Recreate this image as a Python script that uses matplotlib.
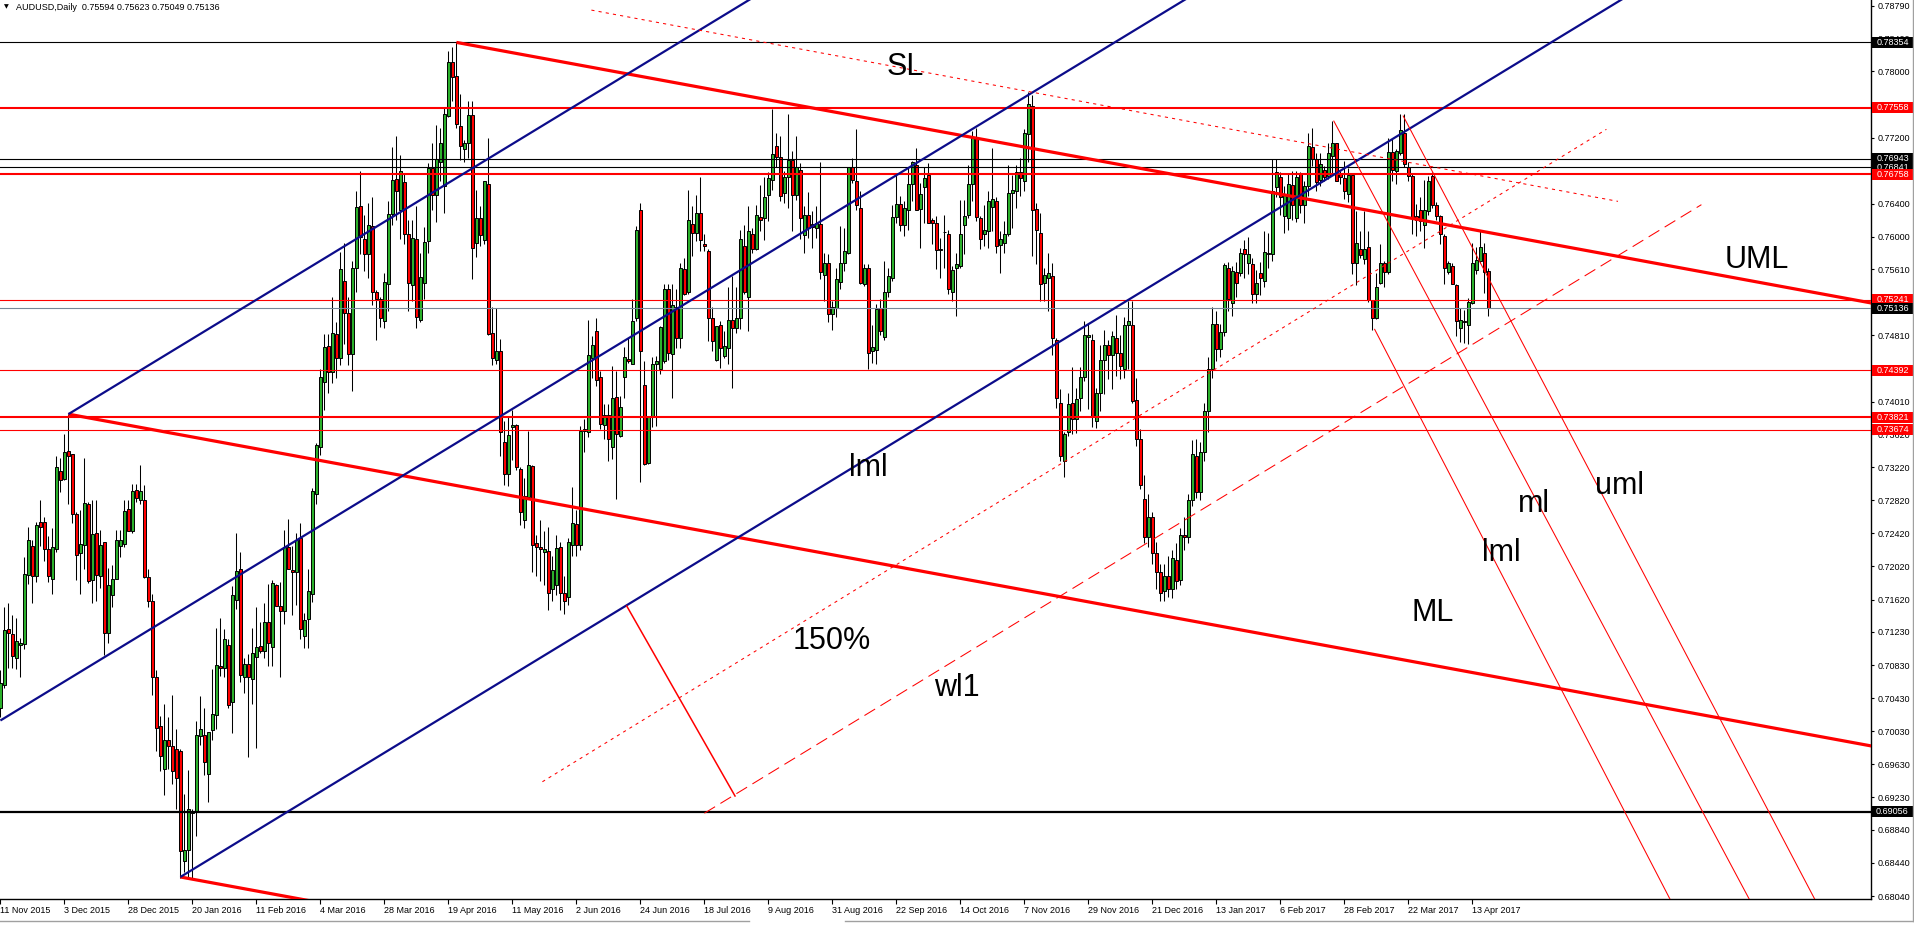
import numpy as np
import matplotlib.pyplot as plt
import matplotlib.transforms as mtransforms
from matplotlib.patches import Rectangle

# ---- daily candles, prices in 1e-4 units, bar 0 = 11 Nov 2015 ----
opens = [
    7031, 7059, 7126, 7121, 7092, 7107, 7108, 7192, 7227, 7191,
    7256, 7256, 7223, 7187, 7223, 7317, 7308, 7342, 7338, 7265,
    7218, 7228, 7277, 7186, 7242, 7190, 7232, 7122, 7167, 7187,
    7227, 7229, 7272, 7245, 7294, 7282, 7282, 7189, 7160, 7069,
    7009, 6958, 6993, 6985, 6981, 6979, 6846, 6860, 6904, 6906,
    6997, 6999, 6951, 7004, 7023, 7082, 7079, 7107, 7038, 7162,
    7199, 7068, 7084, 7066, 7093, 7106, 7100, 7135, 7105, 7180,
    7154, 7148, 7225, 7198, 7195, 7236, 7118, 7138, 7169, 7290,
    7346, 7425, 7468, 7437, 7483, 7454, 7547, 7508, 7459, 7562,
    7637, 7597, 7580, 7613, 7534, 7525, 7499, 7543, 7628, 7670,
    7632, 7666, 7603, 7542, 7598, 7500, 7544, 7595, 7683, 7651,
    7691, 7661, 7746, 7811, 7794, 7734, 7706, 7714, 7747, 7593,
    7623, 7596, 7664, 7484, 7452, 7462, 7352, 7314, 7370, 7373,
    7320, 7258, 7286, 7323, 7230, 7226, 7219, 7221, 7175, 7180,
    7225, 7170, 7165, 7228, 7253, 7228, 7366, 7365, 7454, 7486,
    7431, 7373, 7385, 7346, 7407, 7360, 7431, 7453, 7447, 7502,
    7633, 7421, 7327, 7382, 7447, 7440, 7450, 7537, 7459, 7515,
    7478, 7561, 7533, 7616, 7605, 7629, 7592, 7583, 7502, 7452,
    7494, 7456, 7466, 7500, 7490, 7502, 7589, 7527, 7603, 7585,
    7624, 7623, 7651, 7669, 7710, 7696, 7653, 7672, 7693, 7651,
    7681, 7602, 7626, 7616, 7611, 7616, 7554, 7568, 7507, 7514,
    7546, 7568, 7581, 7684, 7667, 7635, 7543, 7562, 7462, 7464,
    7514, 7479, 7533, 7550, 7624, 7640, 7614, 7632, 7664, 7687,
    7634, 7660, 7675, 7620, 7617, 7585, 7606, 7603, 7533, 7563,
    7565, 7615, 7626, 7664, 7720, 7623, 7604, 7607, 7636, 7644,
    7590, 7593, 7604, 7653, 7656, 7679, 7667, 7724, 7758, 7634,
    7605, 7545, 7551, 7553, 7476, 7400, 7330, 7364, 7399, 7380,
    7406, 7431, 7479, 7476, 7378, 7412, 7452, 7470, 7458, 7478,
    7460, 7440, 7494, 7494, 7403, 7356, 7283, 7238, 7262, 7218,
    7195, 7172, 7190, 7175, 7210, 7186, 7240, 7238, 7282, 7336,
    7292, 7340, 7390, 7440, 7495, 7465, 7485, 7563, 7520, 7558,
    7557, 7585, 7568, 7567, 7531, 7556, 7547, 7581, 7579, 7660,
    7672, 7625, 7623, 7663, 7623, 7677, 7639, 7661, 7709, 7694,
    7669, 7681, 7674, 7698, 7713, 7677, 7671, 7652, 7675, 7569,
    7585, 7573, 7588, 7524, 7502, 7545, 7569, 7558, 7703, 7680,
    7702, 7726, 7684, 7674, 7625, 7633, 7614, 7631, 7674, 7639,
    7625, 7601, 7558, 7565, 7542, 7490, 7499, 7494, 7520, 7560,
    7571, 7581, 7559,
]
highs = [
    7077, 7153, 7158, 7144, 7140, 7116, 7213, 7250, 7234, 7256,
    7282, 7262, 7239, 7249, 7335, 7333, 7362, 7386, 7338, 7268,
    7270, 7333, 7280, 7282, 7282, 7246, 7232, 7200, 7204, 7246,
    7246, 7282, 7282, 7302, 7302, 7325, 7301, 7199, 7169, 7077,
    7022, 7036, 7020, 7047, 7006, 6982, 6927, 6956, 6909, 7015,
    7045, 7031, 7002, 7078, 7128, 7140, 7126, 7115, 7179, 7242,
    7219, 7091, 7096, 7128, 7153, 7135, 7158, 7181, 7186, 7181,
    7183, 7246, 7259, 7227, 7243, 7254, 7146, 7199, 7297, 7351,
    7441, 7483, 7483, 7527, 7497, 7582, 7593, 7527, 7571, 7655,
    7680, 7626, 7641, 7648, 7536, 7527, 7556, 7643, 7709, 7722,
    7699, 7676, 7620, 7620, 7637, 7581, 7612, 7689, 7714, 7735,
    7732, 7757, 7824, 7829, 7835, 7773, 7717, 7764, 7764, 7657,
    7637, 7668, 7719, 7516, 7514, 7477, 7378, 7383, 7391, 7374,
    7322, 7309, 7366, 7324, 7240, 7258, 7245, 7250, 7215, 7240,
    7232, 7190, 7236, 7298, 7270, 7372, 7380, 7500, 7480, 7502,
    7438, 7398, 7398, 7444, 7438, 7408, 7467, 7478, 7525, 7613,
    7641, 7450, 7384, 7455, 7456, 7492, 7543, 7543, 7543, 7537,
    7569, 7575, 7657, 7637, 7651, 7673, 7604, 7585, 7515, 7492,
    7499, 7486, 7539, 7553, 7539, 7608, 7614, 7637, 7611, 7638,
    7663, 7673, 7679, 7754, 7726, 7722, 7680, 7748, 7704, 7722,
    7689, 7637, 7654, 7631, 7637, 7691, 7581, 7579, 7523, 7563,
    7613, 7611, 7685, 7695, 7730, 7655, 7567, 7567, 7494, 7519,
    7525, 7571, 7563, 7639, 7675, 7650, 7643, 7685, 7692, 7708,
    7665, 7684, 7689, 7623, 7625, 7599, 7627, 7608, 7565, 7581,
    7645, 7645, 7687, 7728, 7732, 7625, 7639, 7655, 7707, 7648,
    7607, 7619, 7687, 7675, 7687, 7695, 7730, 7775, 7772, 7641,
    7629, 7563, 7581, 7569, 7478, 7416, 7364, 7412, 7443, 7418,
    7443, 7498, 7496, 7483, 7418, 7470, 7488, 7476, 7486, 7506,
    7482, 7503, 7523, 7523, 7430, 7368, 7312, 7290, 7268, 7232,
    7205, 7205, 7215, 7222, 7230, 7248, 7262, 7290, 7355, 7356,
    7352, 7400, 7455, 7515, 7510, 7495, 7568, 7570, 7565, 7570,
    7587, 7596, 7600, 7575, 7560, 7570, 7607, 7605, 7694, 7694,
    7678, 7662, 7676, 7680, 7680, 7679, 7668, 7725, 7732, 7702,
    7702, 7686, 7714, 7740, 7714, 7680, 7692, 7683, 7675, 7631,
    7607, 7631, 7607, 7524, 7557, 7592, 7571, 7720, 7718, 7706,
    7749, 7749, 7690, 7676, 7640, 7648, 7669, 7674, 7678, 7642,
    7627, 7603, 7571, 7568, 7543, 7514, 7512, 7526, 7593, 7588,
    7608, 7593, 7562,
]
lows = [
    7020, 7055, 7079, 7079, 7078, 7068, 7102, 7181, 7158, 7183,
    7227, 7209, 7183, 7169, 7220, 7292, 7306, 7278, 7255, 7186,
    7169, 7199, 7182, 7158, 7160, 7176, 7095, 7110, 7153, 7187,
    7213, 7225, 7245, 7243, 7280, 7278, 7188, 7153, 7047, 6979,
    6955, 6926, 6957, 6939, 6909, 6826, 6833, 6826, 6826, 6876,
    6987, 6950, 6917, 6992, 7006, 7070, 7068, 7031, 7001, 7151,
    7063, 7049, 6972, 7036, 6983, 7098, 7091, 7082, 7082, 7154,
    7068, 7132, 7199, 7144, 7156, 7114, 7104, 7104, 7159, 7278,
    7337, 7391, 7411, 7424, 7430, 7445, 7471, 7445, 7414, 7533,
    7579, 7559, 7551, 7518, 7475, 7491, 7490, 7510, 7615, 7620,
    7598, 7592, 7510, 7523, 7490, 7497, 7525, 7581, 7633, 7618,
    7667, 7629, 7745, 7764, 7732, 7693, 7690, 7695, 7549, 7576,
    7589, 7592, 7482, 7445, 7447, 7336, 7301, 7299, 7331, 7318,
    7252, 7248, 7284, 7195, 7190, 7185, 7180, 7150, 7160, 7168,
    7150, 7145, 7155, 7215, 7215, 7222, 7340, 7358, 7430, 7420,
    7368, 7356, 7330, 7332, 7283, 7358, 7406, 7448, 7446, 7499,
    7304, 7324, 7326, 7370, 7372, 7434, 7448, 7452, 7406, 7466,
    7466, 7530, 7531, 7577, 7595, 7583, 7583, 7474, 7462, 7450,
    7442, 7454, 7446, 7418, 7484, 7489, 7531, 7486, 7581, 7584,
    7607, 7596, 7619, 7657, 7684, 7643, 7641, 7635, 7607, 7645,
    7597, 7581, 7599, 7587, 7599, 7549, 7523, 7497, 7488, 7503,
    7537, 7559, 7579, 7665, 7633, 7543, 7541, 7440, 7448, 7446,
    7482, 7476, 7527, 7547, 7617, 7607, 7601, 7609, 7643, 7632,
    7587, 7617, 7617, 7591, 7561, 7551, 7563, 7531, 7523, 7505,
    7563, 7579, 7623, 7643, 7619, 7585, 7589, 7587, 7607, 7581,
    7557, 7581, 7601, 7611, 7635, 7649, 7655, 7691, 7577, 7567,
    7523, 7523, 7511, 7458, 7394, 7330, 7310, 7360, 7362, 7363,
    7390, 7426, 7392, 7371, 7369, 7390, 7410, 7428, 7416, 7432,
    7428, 7430, 7440, 7400, 7348, 7296, 7230, 7225, 7205, 7175,
    7160, 7160, 7165, 7164, 7175, 7180, 7222, 7230, 7275, 7285,
    7282, 7330, 7365, 7430, 7450, 7455, 7480, 7510, 7505, 7528,
    7553, 7551, 7555, 7520, 7520, 7530, 7540, 7563, 7571, 7648,
    7627, 7605, 7609, 7620, 7618, 7629, 7617, 7650, 7686, 7656,
    7662, 7668, 7670, 7676, 7668, 7664, 7646, 7642, 7555, 7542,
    7575, 7567, 7522, 7488, 7501, 7543, 7539, 7555, 7668, 7664,
    7699, 7684, 7668, 7603, 7601, 7607, 7587, 7627, 7635, 7621,
    7591, 7543, 7555, 7543, 7480, 7473, 7472, 7471, 7519, 7555,
    7569, 7532, 7505,
]
closes = [
    7061, 7125, 7122, 7094, 7112, 7110, 7193, 7234, 7191, 7252,
    7250, 7223, 7191, 7226, 7322, 7307, 7340, 7336, 7265, 7216,
    7229, 7279, 7185, 7241, 7192, 7228, 7122, 7180, 7187, 7234,
    7234, 7269, 7245, 7293, 7285, 7293, 7189, 7160, 7069, 7007,
    6973, 6993, 6985, 6955, 6947, 6858, 6860, 6909, 6906, 6999,
    7006, 6966, 7002, 7024, 7083, 7079, 7114, 7035, 7167, 7196,
    7071, 7084, 7068, 7098, 7105, 7100, 7135, 7110, 7182, 7154,
    7148, 7226, 7199, 7195, 7234, 7126, 7137, 7172, 7293, 7349,
    7431, 7467, 7437, 7484, 7454, 7561, 7508, 7459, 7562, 7636,
    7600, 7580, 7615, 7534, 7525, 7502, 7546, 7628, 7669, 7655,
    7680, 7603, 7544, 7599, 7503, 7552, 7594, 7683, 7651, 7694,
    7714, 7748, 7811, 7793, 7736, 7710, 7714, 7747, 7587, 7623,
    7602, 7668, 7483, 7454, 7462, 7365, 7314, 7361, 7373, 7322,
    7268, 7287, 7325, 7228, 7225, 7223, 7223, 7170, 7198, 7224,
    7170, 7160, 7231, 7254, 7228, 7366, 7368, 7457, 7470, 7427,
    7374, 7385, 7356, 7405, 7362, 7395, 7455, 7450, 7499, 7609,
    7462, 7326, 7382, 7446, 7450, 7491, 7537, 7460, 7518, 7478,
    7563, 7531, 7621, 7605, 7629, 7596, 7589, 7502, 7474, 7492,
    7466, 7468, 7500, 7490, 7502, 7597, 7533, 7607, 7585, 7626,
    7620, 7648, 7671, 7700, 7696, 7649, 7672, 7693, 7651, 7684,
    7623, 7626, 7611, 7612, 7617, 7558, 7568, 7507, 7515, 7549,
    7568, 7583, 7684, 7669, 7639, 7545, 7563, 7460, 7467, 7513,
    7486, 7533, 7553, 7624, 7640, 7614, 7635, 7664, 7691, 7633,
    7652, 7671, 7617, 7617, 7584, 7584, 7606, 7537, 7560, 7567,
    7604, 7625, 7664, 7720, 7624, 7598, 7609, 7643, 7646, 7589,
    7597, 7604, 7653, 7657, 7679, 7671, 7726, 7760, 7633, 7608,
    7543, 7554, 7556, 7478, 7406, 7336, 7362, 7398, 7380, 7404,
    7431, 7481, 7481, 7382, 7412, 7452, 7470, 7458, 7480, 7460,
    7444, 7494, 7498, 7402, 7356, 7300, 7238, 7262, 7218, 7195,
    7170, 7190, 7175, 7212, 7185, 7240, 7238, 7282, 7338, 7292,
    7340, 7390, 7440, 7495, 7465, 7485, 7566, 7525, 7559, 7545,
    7581, 7579, 7580, 7531, 7545, 7551, 7582, 7579, 7656, 7679,
    7648, 7652, 7664, 7639, 7672, 7639, 7661, 7710, 7694, 7666,
    7688, 7672, 7702, 7713, 7668, 7672, 7655, 7675, 7569, 7593,
    7578, 7585, 7524, 7502, 7539, 7569, 7558, 7703, 7681, 7704,
    7729, 7688, 7674, 7623, 7621, 7619, 7633, 7668, 7639, 7625,
    7603, 7562, 7568, 7543, 7499, 7500, 7497, 7522, 7569, 7572,
    7588, 7558, 7514,
]

date_labels = ['11 Nov 2015', '3 Dec 2015', '28 Dec 2015', '20 Jan 2016', '11 Feb 2016',
               '4 Mar 2016', '28 Mar 2016', '19 Apr 2016', '11 May 2016', '2 Jun 2016',
               '24 Jun 2016', '18 Jul 2016', '9 Aug 2016', '31 Aug 2016', '22 Sep 2016',
               '14 Oct 2016', '7 Nov 2016', '29 Nov 2016', '21 Dec 2016', '13 Jan 2017',
               '6 Feb 2017', '28 Feb 2017', '22 Mar 2017', '13 Apr 2017']
date_bars = list(range(0, 16 * len(date_labels), 16))

price_ticks = [0.78790, 0.78400, 0.78000, 0.77600, 0.77200, 0.76800, 0.76400, 0.76000,
               0.75610, 0.75210, 0.74810, 0.74410, 0.74010, 0.73620, 0.73220, 0.72820,
               0.72420, 0.72020, 0.71620, 0.71230, 0.70830, 0.70430, 0.70030, 0.69630,
               0.69230, 0.68840, 0.68440, 0.68040]

# horizontal levels
red_thick_levels = [0.77558, 0.76758, 0.73821]
red_thin_levels = [0.75241, 0.74392, 0.73674]
black_levels = [0.78354, 0.76943, 0.76841]
support_level = 0.69056
last_price = 0.75136

# trend lines: (bar, price) end points
fork_upper = [(114, 0.7835), (468, 0.7520)]     # UML
fork_median = [(17, 0.7386), (468, 0.6985)]     # ML
fork_lower = [(45, 0.6827), (90, 0.6787)]
blue_a = [(17, 0.7386), (200, 0.7924)]
blue_b = [(0, 0.7016), (300, 0.7898)]
blue_c = [(45, 0.6827), (420, 0.7930)]
sl_line = [(147.75, 0.7874), (404.4, 0.7643)]
pct150_line = [(135.5, 0.6942), (401.5, 0.7730)]
wl1_line = [(176, 0.6904), (425.25, 0.7639)]
perp_line = [(156.5, 0.7155), (183.75, 0.6924)]
steep_lower = [(343.5, 0.7489), (420, 0.6776)]
steep_mid = [(333.3, 0.77405), (440, 0.6775)]
steep_upper = [(350.65, 0.77466), (456, 0.6778)]

W, H = 1915, 925
fig = plt.figure(figsize=(W / 100, H / 100), dpi=100)
fig.patch.set_facecolor('white')
ax = fig.add_axes([0, 26 / H, 1871 / W, 899 / H])

n = min(len(opens), len(highs), len(lows), len(closes))
o = np.array(opens[:n]) / 1e4
h = np.array(highs[:n]) / 1e4
l = np.array(lows[:n]) / 1e4
c = np.array(closes[:n]) / 1e4
idx = np.arange(n)
up = c >= o

ax.vlines(idx, l, h, color='black', lw=0.75, zorder=2)
ax.bar(idx, np.maximum(np.abs(c - o), 0.00003), bottom=np.minimum(o, c), width=0.62,
       color=np.where(up, '#2bb02b', '#ff0000'), edgecolor='black', linewidth=0.7, zorder=2.1)

# horizontal levels
for p in red_thick_levels:
    ax.axhline(p, color='#ff0000', lw=1.5, zorder=3)
for p in red_thin_levels:
    ax.axhline(p, color='#ff0000', lw=0.8, zorder=3)
for p in black_levels:
    ax.axhline(p, color='black', lw=0.8, zorder=3)
ax.axhline(support_level, color='black', lw=1.6, zorder=3)
ax.axhline(last_price, color='#778899', lw=0.8, zorder=3)


def seg(pts, **kw):
    xs, ys = zip(*pts)
    ax.plot(xs, ys, solid_capstyle='butt', zorder=4, **kw)


for pts in (fork_upper, fork_median, fork_lower):
    seg(pts, color='#ff0000', lw=2.3)
for pts in (blue_a, blue_b, blue_c):
    seg(pts, color='#0c0c8a', lw=1.6)
seg(sl_line, color='#ff0000', lw=0.75, linestyle=(0, (3, 4)))
seg(pct150_line, color='#ff0000', lw=0.75, linestyle=(0, (3, 4)))
seg(wl1_line, color='#ff0000', lw=0.75, linestyle=(0, (12, 6)))
seg(perp_line, color='#ff0000', lw=1.1)
for pts in (steep_lower, steep_mid, steep_upper):
    seg(pts, color='#ff0000', lw=0.75)

lab = dict(fontsize=22, family='Liberation Sans', ha='center', va='center', zorder=5)
ax.text(226.25, 0.7805, 'SL', **lab)
ax.text(439, 0.7572, 'UML', **lab)
ax.text(217, 0.7321, 'lml', **lab)
ax.text(383.5, 0.7278, 'ml', **lab)
ax.text(404.75, 0.7299, 'uml', **lab)
ax.text(375.25, 0.7218, 'lml', **lab)
ax.text(358, 0.7146, 'ML', **lab)
ax.text(207.75, 0.7112, '150%', **lab)
ax.text(239, 0.7055, 'wl1', **lab)

ax.set_xlim(-0.1, 467.65)
ax.set_ylim(0.68004, 0.78862)

for s in ('top', 'left'):
    ax.spines[s].set_visible(False)
for s in ('right', 'bottom'):
    ax.spines[s].set_linewidth(1.0)

ax.yaxis.tick_right()
ax.set_yticks(price_ticks)
ax.set_yticklabels([f'{p:.5f}' for p in price_ticks], family='Liberation Sans')
ax.tick_params(axis='y', direction='out', length=2.5, width=0.8, pad=2, labelsize=6.5)
ax.set_xticks(date_bars)
ax.set_xticklabels(date_labels, ha='left', family='Liberation Sans')
ax.tick_params(axis='x', direction='out', length=3.5, width=0.8, pad=1.5, labelsize=6.5)

# price tags on the right scale
tr = mtransforms.blended_transform_factory(ax.transAxes, ax.transData)
tag_x = 1 + 1 / 1871
tag_w = 41 / 1871
tag_h = 11 / 8279


def tag(p, col, z):
    ax.add_patch(Rectangle((tag_x, p - tag_h / 2), tag_w, tag_h, transform=tr, facecolor=col,
                           edgecolor='none', clip_on=False, zorder=z))
    ax.text(tag_x + tag_w / 2, p, f'{p:.5f}', transform=tr, color='white', fontsize=6.5,
            family='Liberation Sans', ha='center', va='center', clip_on=False, zorder=z + 0.1)


tag(0.78354, 'black', 6)
tag(0.77558, '#ff0000', 6)
tag(0.76943, 'black', 6)
tag(0.76841, 'black', 6.2)
tag(0.76758, '#ff0000', 6.4)
tag(0.75241, '#ff0000', 6)
tag(last_price, 'black', 6.4)
tag(0.74392, '#ff0000', 6)
tag(0.73821, '#ff0000', 6)
tag(0.73674, '#ff0000', 6.2)
tag(support_level, 'black', 6)

# header
fig.text(4 / W, 1 - 7 / H, '\u25bc', fontsize=4.5, family='DejaVu Sans', va='center')
fig.text(16 / W, 1 - 7 / H, 'AUDUSD,Daily  0.75594 0.75623 0.75049 0.75136',
         fontsize=6.5, family='Liberation Sans', va='center')

# window border
fig.add_artist(plt.Line2D([1913 / W, 1913 / W], [4 / H, 1], color='#a0a0a0', lw=1))
fig.add_artist(plt.Line2D([0, 749 / W], [4 / H, 4 / H], color='#a0a0a0', lw=1))
fig.add_artist(plt.Line2D([845 / W, 1913 / W], [4 / H, 4 / H], color='#a0a0a0', lw=1))

fig.savefig('out.png', dpi=100)
